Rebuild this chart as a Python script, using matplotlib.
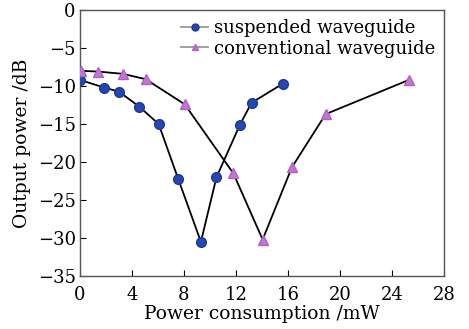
import matplotlib
matplotlib.use("Agg")
import matplotlib.pyplot as plt

# Datos
sus_x = [0.0, 1.85, 3.0, 4.55, 6.05, 7.55, 9.3, 10.5, 12.3, 13.2, 15.6]
sus_y = [-9.2, -10.2, -10.75, -12.7, -15.0, -22.2, -30.5, -22.0, -15.1, -12.2, -9.7]
conv_x = [0.05, 1.4, 3.3, 5.05, 8.05, 11.8, 14.05, 16.3, 18.9, 25.3]
conv_y = [-8.0, -8.1, -8.4, -9.1, -12.4, -21.5, -30.2, -20.7, -13.7, -9.2]

plt.rcParams['font.family'] = ['DejaVu Serif']
plt.rcParams['mathtext.fontset'] = 'dejavuserif'

fig = plt.figure(figsize=(4.69, 3.29), dpi=100)
ax = fig.add_axes([0.1706, 0.161, 0.776, 0.8086])

ax.plot(sus_x, sus_y, color="black", lw=1.3, marker="o", ms=7,
        mfc="#2646b0", mec="#1c3a9c", label="suspended waveguide", zorder=3)
ax.plot(conv_x, conv_y, color="black", lw=1.3, marker="^", ms=7.5,
        mfc="#c474d4", mec="#b060c4", label="conventional waveguide", zorder=3)

ax.set_xlim(0, 28)
ax.set_ylim(-35, 0)
ax.set_xticks(range(0, 29, 4))
ax.set_yticks(range(-35, 1, 5))
ax.set_yticklabels(["\u221235", "\u221230", "\u221225", "\u221220", "\u221215", "\u221210", "\u22125", "0"])
ax.tick_params(direction="in", length=4, labelsize=13, top=False, right=False)
ax.tick_params(axis="x", pad=7)
ax.tick_params(axis="y", pad=3)
for s in ax.spines.values():
    s.set_color("#555555")
    s.set_linewidth(1.0)

ax.set_xlabel("Power consumption /mW", fontsize=13.5, labelpad=1)
ax.set_ylabel("Output power /dB", fontsize=13.5, labelpad=5)

leg = ax.legend(loc="upper right", frameon=False, fontsize=13, handlelength=1.5,
                handletextpad=0.3, borderaxespad=0.1, labelspacing=0.15)
for h in leg.legend_handles:
    h.set_color("#999999")
    h.set_markersize(5)

fig.savefig("out.png", dpi=100)
